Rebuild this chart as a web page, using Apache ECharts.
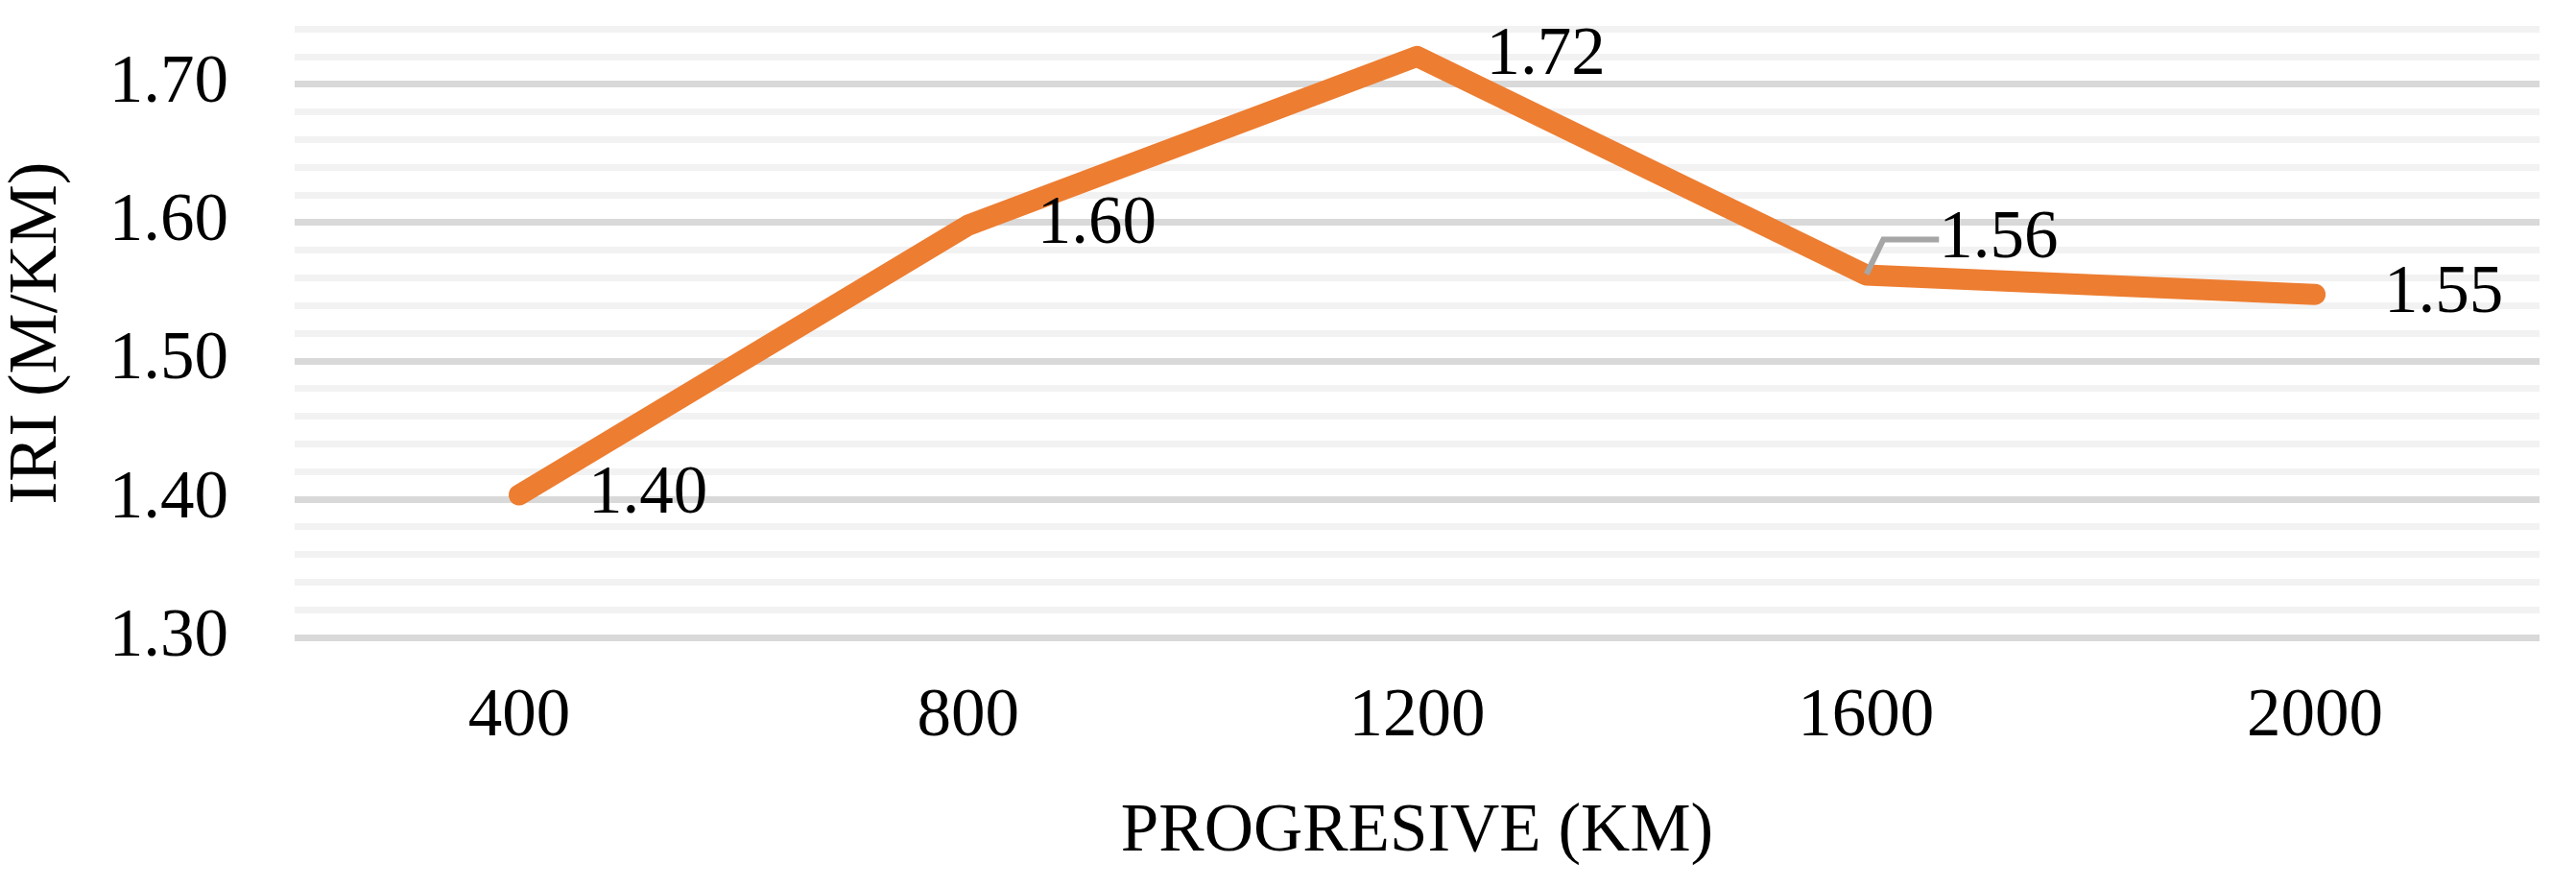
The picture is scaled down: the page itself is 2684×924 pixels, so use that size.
<!DOCTYPE html>
<html>
<head>
<meta charset="utf-8">
<script src="https://cdn.jsdelivr.net/npm/echarts@6/dist/echarts.min.js"></script>
<style>
html,body{margin:0;padding:0;background:#fff;}
#chart{width:2684px;height:924px;}
</style>
</head>
<body>
<div id="chart"></div>
<script>
const categories = ['400', '800', '1200', '1600', '2000'];
const iriValues = [1.403, 1.598, 1.720, 1.562, 1.548];
const yTicks = [1.30, 1.40, 1.50, 1.60, 1.70];
const xTitle = 'PROGRESIVE (KM)';
const yTitle = 'IRI (M/KM)';
// per-label nudges [dx, dy] relative to the default right position
const labelNudges = [[3, 0], [-9, 3], [0, -2], [4, -37], [-1, 0]];

const FONT = '"Liberation Serif", "Times New Roman", serif';
const chart = echarts.init(document.getElementById('chart'), null, {renderer: 'canvas'});

const seriesData = iriValues.map((v, i) => {
  const item = {value: v};
  if (i === 3) {
    item.labelLine = {show: true};
  } else {
    item.label = {offset: labelNudges[i]};
  }
  return item;
});

chart.setOption({
  backgroundColor: '#ffffff',
  animation: false,
  grid: {left: 307, right: 38, top: 30, bottom: 260, containLabel: false, outerBoundsMode: 'none'},
  xAxis: {
    type: 'category',
    data: categories,
    boundaryGap: true,
    axisLine: {show: false},
    axisTick: {show: false},
    axisLabel: {color: '#000', fontFamily: FONT, fontSize: 71, margin: 48},
    splitLine: {show: false},
    name: xTitle,
    nameLocation: 'middle',
    nameGap: 168,
    nameTextStyle: {color: '#000', fontFamily: FONT, fontSize: 71}
  },
  yAxis: {
    type: 'value',
    min: 1.30,
    max: 1.74,
    interval: 0.02,
    axisLine: {show: false},
    axisTick: {show: false},
    axisLabel: {
      color: '#000', fontFamily: FONT, fontSize: 71, margin: 69,
      formatter: function (v) {
        for (const t of yTicks) { if (Math.abs(v - t) < 1e-6) return t.toFixed(2); }
        return '';
      }
    },
    splitLine: {
      show: true,
      lineStyle: {width: 7, color: ['#d9d9d9', '#f2f2f2', '#f2f2f2', '#f2f2f2', '#f2f2f2']}
    },
    name: yTitle,
    nameLocation: 'middle',
    nameRotate: 90,
    nameGap: 232,
    nameTextStyle: {color: '#000', fontFamily: FONT, fontSize: 71}
  },
  series: [{
    type: 'line',
    data: seriesData,
    symbol: 'circle',
    symbolSize: 2,
    showSymbol: true,
    itemStyle: {color: '#ed7d31'},
    lineStyle: {color: '#ed7d31', width: 22, cap: 'round', join: 'round'},
    label: {
      show: true,
      position: 'right',
      distance: 71,
      color: '#000',
      fontFamily: FONT,
      fontSize: 71,
      formatter: p => Number(p.value).toFixed(2)
    },
    labelLine: {show: false, lineStyle: {color: '#a6a6a6', width: 6}, length2: 58},
    labelLayout: function (params) {
      if (params.dataIndex === 3) {
        return {dx: labelNudges[3][0], dy: labelNudges[3][1]};
      }
      return {};
    },
    z: 3
  }]
});
</script>
</body>
</html>
